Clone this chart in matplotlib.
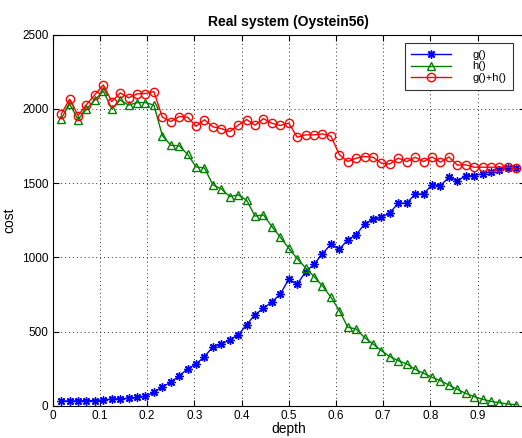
import matplotlib
matplotlib.use("Agg")
import matplotlib.pyplot as plt
import numpy as np

plt.rcParams['font.family'] = ['Liberation Sans', 'DejaVu Sans']

# depth = i/56, i = 1..55
depth = np.arange(1, 56) / 56.0

g = [34, 34, 34, 36, 36, 40, 47, 49, 52, 58,
     65, 92, 130, 159, 204, 249, 283, 332, 399, 415,
     447, 478, 547, 615, 658, 700, 754, 853, 819, 904,
     954, 1025, 1089, 1055, 1118, 1153, 1225, 1259, 1270, 1301,
     1365, 1365, 1427, 1427, 1490, 1483, 1540, 1515, 1551, 1551,
     1564, 1578, 1591, 1600, 1600]

h = [1934, 2033, 1928, 1998, 2060, 2119, 2002, 2060, 2025, 2042,
     2042, 2025, 1820, 1755, 1751, 1694, 1609, 1602, 1488, 1461,
     1409, 1421, 1385, 1278, 1286, 1207, 1136, 1062, 992, 929,
     871, 808, 732, 642, 530, 518, 460, 417, 372, 332,
     305, 283, 246, 220, 193, 170, 141, 112, 85, 63,
     45, 31, 22, 13, 9]

gh = [1964, 2065, 1955, 2029, 2096, 2161, 2049, 2107, 2074, 2101,
      2103, 2116, 1944, 1914, 1948, 1944, 1883, 1926, 1879, 1867,
      1847, 1890, 1928, 1890, 1934, 1903, 1888, 1904, 1809, 1825,
      1825, 1831, 1816, 1692, 1645, 1668, 1679, 1674, 1634, 1629,
      1668, 1645, 1674, 1645, 1676, 1641, 1676, 1621, 1623, 1607,
      1607, 1607, 1609, 1607, 1600]

fig = plt.figure(figsize=(5.22, 4.38), dpi=100)
ax = fig.add_axes([0.1011, 0.0731, 0.9042, 0.848])

# matlab-style asterisk (8 arms)
ax.plot(depth, g, color='#0000ff', marker=(8, 2, 0), markersize=6, markeredgewidth=1,
        linewidth=1, label='g()')
ax.plot(depth, h, color='#008000', marker='^', markersize=6, markerfacecolor='none',
        linewidth=1, label='h()')
ax.plot(depth, gh, color='#ff0000', marker='o', markersize=6, markerfacecolor='none',
        linewidth=1, label='g()+h()')

ax.set_xlim(0, 1)
ax.set_ylim(0, 2500)
ax.set_xticks(np.arange(0, 1.0, 0.1))
ax.set_xticklabels(['0', '0.1', '0.2', '0.3', '0.4', '0.5', '0.6', '0.7', '0.8', '0.9'])
ax.set_yticks([0, 500, 1000, 1500, 2000, 2500])
ax.tick_params(direction='in', length=4, labelsize=8.5, top=True, right=True, pad=3)
ax.grid(True, linestyle=(0, (1, 3)), color='#303030', linewidth=0.7)

ax.set_title('Real system (Oystein56)', fontsize=10, fontweight='bold', pad=6)
ax.set_xlabel('depth', fontsize=10, labelpad=0)
ax.set_ylabel('cost', fontsize=10, labelpad=4)

leg = ax.legend(loc='upper right', bbox_to_anchor=(0.975, 0.977), fontsize=8,
                frameon=True, fancybox=False, edgecolor='black', handlelength=3.6,
                handletextpad=1.9, labelspacing=0.15, borderpad=0.6, borderaxespad=0)
leg.get_frame().set_linewidth(0.8)

fig.savefig('out.png', dpi=100)
